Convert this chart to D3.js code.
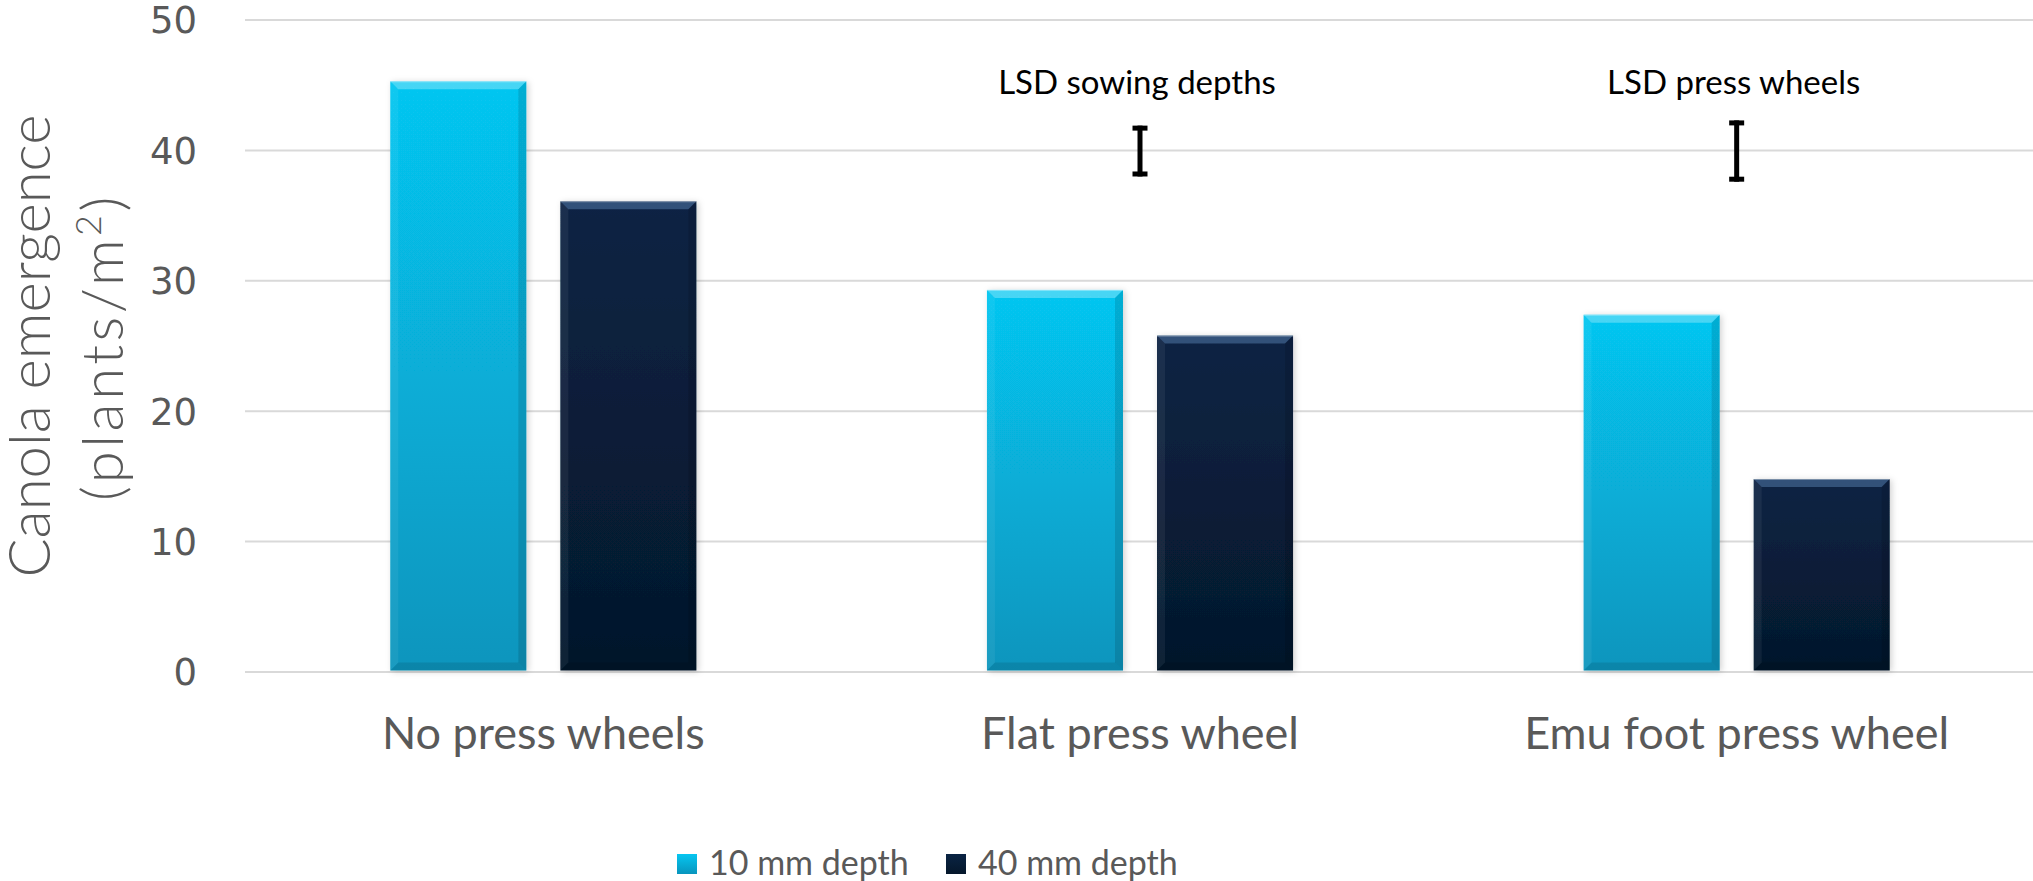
<!DOCTYPE html>
<html><head><meta charset="utf-8">
<script src="https://cdn.jsdelivr.net/npm/d3@7"></script>
<style>body{margin:0;background:#fff;} svg{display:block}</style>
</head><body><svg id="c" width="2033" height="881"></svg>
<script>
const categories = ["No press wheels", "Flat press wheel", "Emu foot press wheel"];
const seriesNames = ["10 mm depth", "40 mm depth"];
const depth10 = [45.3, 29.3, 27.4];
const depth40 = [36.1, 25.8, 14.8];
const yTicks = [0, 10, 20, 30, 40, 50];
const lsdLabels = ["LSD sowing depths", "LSD press wheels"];
const lsdCategories = ["Flat press wheel", "Emu foot press wheel"];
const lsdLow = [38.0, 37.6];
const lsdHigh = [41.9, 42.3];

const svg = d3.select("#c");
const W = 2033, H = 881;
const plot = {left: 245, right: 2035, top: 20, bottom: 672};

const x0 = d3.scaleBand().domain(categories).range([plot.left, plot.right]).padding(0);
const bw = x0.bandwidth();
const x1 = d3.scaleBand().domain(seriesNames).range([0.2435 * bw, 0.7565 * bw]).paddingInner(0.2).paddingOuter(0);
const y = d3.scaleLinear().domain([0, 50]).range([plot.bottom, plot.top]);

const defs = svg.append("defs");
const g1 = defs.append("linearGradient").attr("id", "gCyan").attr("x1", 0).attr("y1", 0).attr("x2", 0).attr("y2", 1);
g1.append("stop").attr("offset", "0%").attr("stop-color", "#06c6f1");
g1.append("stop").attr("offset", "100%").attr("stop-color", "#0895bd");
const g2 = defs.append("linearGradient").attr("id", "gNavy").attr("x1", 0).attr("y1", 0).attr("x2", 0).attr("y2", 1);
g2.append("stop").attr("offset", "0%").attr("stop-color", "#0a2444");
g2.append("stop").attr("offset", "100%").attr("stop-color", "#05172b");
const f = defs.append("filter").attr("id", "shadow").attr("x", "-10%").attr("y", "-10%").attr("width", "130%").attr("height", "130%");
f.append("feDropShadow").attr("dx", 2).attr("dy", 1).attr("stdDeviation", 3).attr("flood-color", "#000").attr("flood-opacity", 0.18);

// gridlines
svg.append("g").selectAll("line").data(yTicks).join("line")
  .attr("x1", plot.left).attr("x2", W)
  .attr("y1", d => y(d)).attr("y2", d => y(d))
  .attr("stroke", "#d9d9d9").attr("stroke-width", 2);

// y tick labels
svg.append("g").selectAll("text").data(yTicks).join("text")
  .attr("x", 197).attr("y", d => y(d)).attr("dy", "0.36em")
  .attr("text-anchor", "end")
  .attr("font-family", "'DejaVu Sans', sans-serif").attr("font-size", 37)
  .attr("fill", "#595959").text(d => d);

// y title
const yt = svg.append("g").attr("font-family", "Lato, 'Open Sans', sans-serif").attr("fill", "#595959").attr("font-weight", 300);
yt.append("text").attr("transform", "translate(50,346) rotate(-90)")
  .attr("text-anchor", "middle").attr("font-size", 58).text("Canola emergence");
const t2 = yt.append("text").attr("transform", "translate(123,347) rotate(-90)")
  .attr("text-anchor", "middle").attr("font-size", 58).attr("letter-spacing", 3.5);
t2.append("tspan").text("(plants/m");
t2.append("tspan").attr("font-size", 36).attr("dy", -22).text("2");
t2.append("tspan").attr("dy", 22).text(")");

// bars
const seriesData = [depth10, depth40];
const fills = ["url(#gCyan)", "url(#gNavy)"];
const bevelTop = ["rgba(255,255,255,0.28)", "rgba(120,170,220,0.35)"];
const bg = svg.append("g");
const b = 8;
seriesNames.forEach((s, si) => {
  categories.forEach((c, ci) => {
    const v = seriesData[si][ci];
    const x = x0(c) + x1(s), w = x1.bandwidth();
    const yt0 = y(v), yb = y(0) - 1.5, h = yb - yt0;
    const g = bg.append("g");
    g.append("rect").attr("x", x).attr("y", yt0).attr("width", w).attr("height", h)
      .attr("fill", fills[si]).attr("filter", "url(#shadow)");
    g.append("polygon").attr("points", [[x, yt0], [x + w, yt0], [x + w - b, yt0 + b], [x + b, yt0 + b]].map(p => p.join(",")).join(" "))
      .attr("fill", bevelTop[si]);
    g.append("polygon").attr("points", [[x, yt0], [x + b, yt0 + b], [x + b, yb - b], [x, yb]].map(p => p.join(",")).join(" "))
      .attr("fill", "rgba(255,255,255,0.06)");
    g.append("polygon").attr("points", [[x + w, yt0], [x + w - b, yt0 + b], [x + w - b, yb - b], [x + w, yb]].map(p => p.join(",")).join(" "))
      .attr("fill", "rgba(0,0,0,0.12)");
    g.append("polygon").attr("points", [[x, yb], [x + b, yb - b], [x + w - b, yb - b], [x + w, yb]].map(p => p.join(",")).join(" "))
      .attr("fill", "rgba(0,0,0,0.10)");
    g.append("line").attr("x1", x).attr("x2", x + w).attr("y1", yt0 + 0.5).attr("y2", yt0 + 0.5)
      .attr("stroke", "rgba(255,255,255,0.35)").attr("stroke-width", 1);
  });
});

// category labels
svg.append("g").selectAll("text").data(categories).join("text")
  .attr("x", d => x0(d) + bw / 2).attr("y", 749)
  .attr("text-anchor", "middle")
  .attr("font-family", "Lato, 'Open Sans', sans-serif").attr("font-size", 45)
  .attr("fill", "#595959").text(d => d);

// LSD bars
const lg = svg.append("g");
lsdLabels.forEach((lab, i) => {
  const cx = x0(lsdCategories[i]) + bw / 2;
  const yTop = y(lsdHigh[i]), yBot = y(lsdLow[i]);
  lg.append("text").attr("x", cx - 3).attr("y", 94).attr("text-anchor", "middle")
    .attr("font-family", "Lato, 'Open Sans', sans-serif").attr("font-size", 33)
    .attr("fill", "#000").text(lab);
  lg.append("line").attr("x1", cx).attr("x2", cx).attr("y1", yTop).attr("y2", yBot)
    .attr("stroke", "#000").attr("stroke-width", 5);
  lg.append("line").attr("x1", cx - 7.5).attr("x2", cx + 7.5).attr("y1", yTop + 2.5).attr("y2", yTop + 2.5)
    .attr("stroke", "#000").attr("stroke-width", 5);
  lg.append("line").attr("x1", cx - 7.5).attr("x2", cx + 7.5).attr("y1", yBot - 2.5).attr("y2", yBot - 2.5)
    .attr("stroke", "#000").attr("stroke-width", 5);
});

// legend
const legX = [677, 946];
const leg = svg.append("g");
seriesNames.forEach((s, i) => {
  leg.append("rect").attr("x", legX[i]).attr("y", 854).attr("width", 20).attr("height", 20).attr("fill", fills[i]);
  leg.append("text").attr("x", legX[i] + 32).attr("y", 875)
    .attr("font-family", "Lato, 'Open Sans', sans-serif").attr("font-size", 34)
    .attr("fill", "#595959").text(s);
});
</script></body></html>
